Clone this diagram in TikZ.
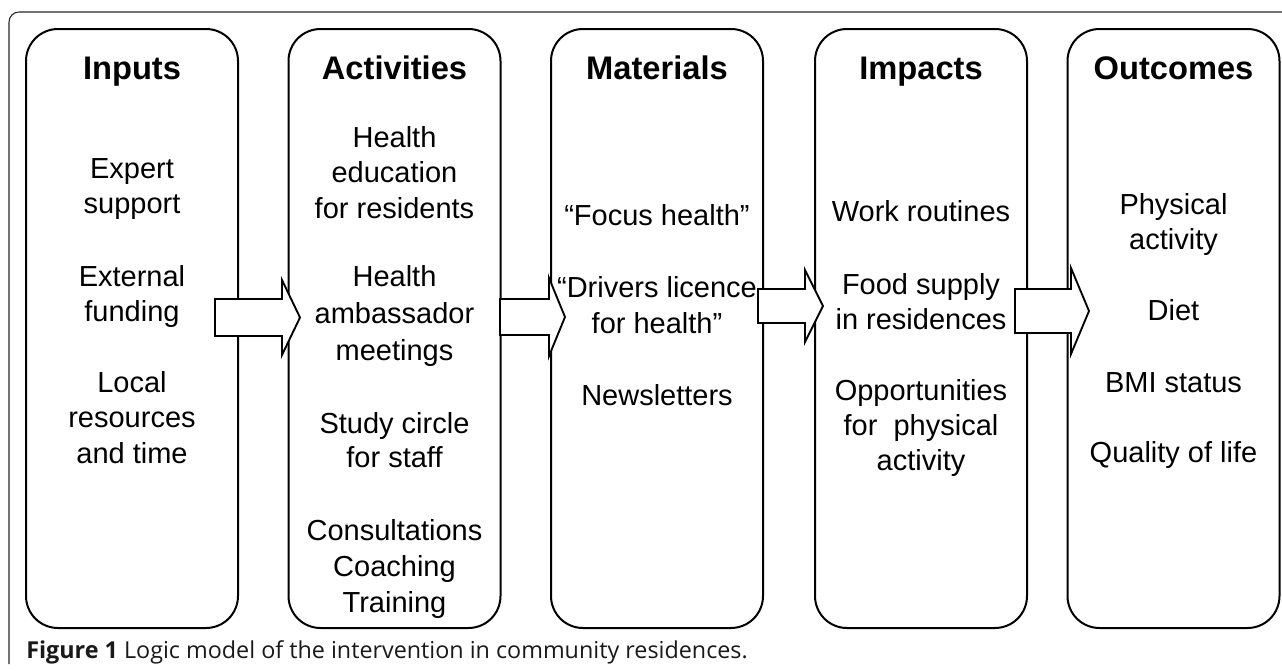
\documentclass[tikz,border=0pt]{standalone}
\usepackage{fontspec}
\setmainfont{Liberation Sans}
\newfontfamily\capfont{Open Sans}
\begin{document}
\begin{tikzpicture}[x=0.75pt,y=-0.75pt]
\tikzset{
  col/.style={draw, line width=1.5pt, rounded corners=24pt, minimum width=159pt, minimum height=449.25pt, inner sep=0pt},
  blockarrow/.style={draw, fill=white, line width=1.4pt, line join=miter},
  ttl/.style={font=\fontsize{24.5}{29}\selectfont\bfseries, anchor=base, inner sep=0pt},
  itm/.style={font=\fontsize{21.75}{26}\selectfont, anchor=base, inner sep=0pt},
  frame/.style={draw=black!85, line width=0.8pt, rounded corners=7.5pt},
}
\useasboundingbox (0,0) rectangle (1282,671);
% outer frame
\draw[frame] (9,664) -- (9,12) -- (1282,12);
% column boxes
\node[col] (inputs) at (132,328.5) {};
\node[col] (activities) at (394.5,328.5) {};
\node[col] (materials) at (657,328.5) {};
\node[col] (impacts) at (921,328.5) {};
\node[col] (outcomes) at (1173.5,328.5) {};
% block arrows
\draw[blockarrow] (215,299) -- (282,299) -- (282,280) -- (300,317.5) -- (282,355) -- (282,336) -- (215,336) -- cycle;
\draw[blockarrow] (500,299) -- (549,299) -- (549,278) -- (565,317) -- (549,356) -- (549,335) -- (500,335) -- cycle;
\draw[blockarrow] (758,289) -- (805,289) -- (805,270) -- (823,306) -- (805,342) -- (805,323) -- (758,323) -- cycle;
\draw[blockarrow] (1015,289) -- (1071,289) -- (1071,268) -- (1089,311) -- (1071,354) -- (1071,333) -- (1015,333) -- cycle;
% titles
\node[ttl] (t1) at (132,79) {Inputs};
\node[ttl] (t2) at (394.5,79) {Activities};
\node[ttl] (t3) at (657,79) {Materials};
\node[ttl] (t4) at (921,79) {Impacts};
\node[ttl] (t5) at (1173.5,79) {Outcomes};
% items
\foreach \t/\y [count=\i] in {Expert/178, support/213, External/286, funding/321, Local/392, resources/427, and time/463}
  \node[itm] (in\i) at (132,\y) {\t};
\foreach \t/\y [count=\i] in {Health/147, education/182, for residents/218, Health/286, ambassador/323, meetings/360, Study circle/433, for staff/467, Consultations/540, Coaching/576, Training/612}
  \node[itm] (ac\i) at (394.5,\y) {\t};
\foreach \t/\y [count=\i] in {“Focus health”/225, “Drivers licence/297, for health”/333, Newsletters/405}
  \node[itm] (ma\i) at (657,\y) {\t};
\foreach \t/\y [count=\i] in {Work routines/221, Food supply/294, in residences/329, Opportunities/400, for\ \ physical/435, activity/470}
  \node[itm] (im\i) at (921,\y) {\t};
\foreach \t/\y [count=\i] in {Physical/214, activity/249, Diet/320, BMI status/392, Quality of life/462}
  \node[itm] (ou\i) at (1173.5,\y) {\t};
% caption
\node[anchor=base west, inner sep=0pt, font=\capfont\fontsize{17.5}{20}\selectfont, text=black!90] (cap) at (26,658) {\textbf{Figure 1} Logic model of the intervention in community residences.};
\end{tikzpicture}
\end{document}
